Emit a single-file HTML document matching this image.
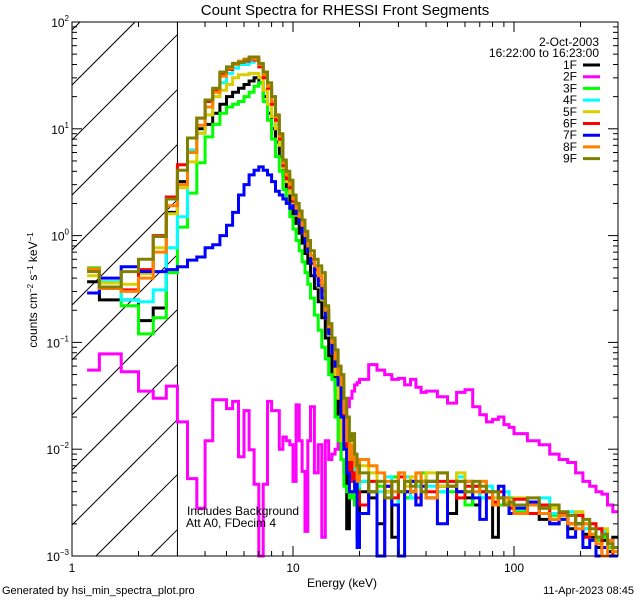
<!DOCTYPE html>
<html><head><meta charset="utf-8">
<style>
html,body{margin:0;padding:0;background:#fff;width:640px;height:600px;overflow:hidden;}
svg{display:block;font-family:"Liberation Sans",sans-serif;}
</style></head>
<body>
<svg id="chart" width="640" height="600" viewBox="0 0 640 600" xmlns="http://www.w3.org/2000/svg">
<rect x="0" y="0" width="640" height="600" fill="#fff"/>
<text x="345" y="15" font-size="15" text-anchor="middle">Count Spectra for RHESSI Front Segments</text>
<g id="hatch"></g>
<g id="series"></g>
<g id="axes"></g>
<text x="187" y="515" font-size="12">Includes Background</text>
<text x="186" y="527" font-size="12">Att A0, FDecim 4</text>
<text x="342" y="587" font-size="12" text-anchor="middle">Energy (keV)</text>
<text transform="translate(37,290) rotate(-90)" font-size="12" text-anchor="middle">counts cm<tspan baseline-shift="super" font-size="8">−2</tspan> s<tspan baseline-shift="super" font-size="8">−1</tspan> keV<tspan baseline-shift="super" font-size="8">−1</tspan></text>
<text x="2" y="594" font-size="11">Generated by hsi_min_spectra_plot.pro</text>
<text x="634" y="594" font-size="11" text-anchor="end">11-Apr-2023 08:45</text>
<g id="legend"></g>
</svg>
<script>
const edges=[1.17,1.33,1.67,2,2.33,2.67,3,3.33,3.67,4,4.33,4.67,5,5.33,5.67,6,6.33,6.67,7,7.33,7.67,8,8.33,8.67,9,9.33,9.67,10,10.33,10.67,11,11.33,11.67,12,12.5,13,13.5,14,14.5,15,15.5,16,16.5,17,17.5,18,18.5,19,19.5,20,22,24,26,28,30,32,34,36,38,40,45,50,55,60,65,70,75,80,85,90,95,100,115,130,145,160,175,190,205,220,235,250,265,280,295];
const seriesNames=["1F","2F","3F","4F","5F","6F","7F","8F","9F"];
const seriesColors=["#000000","#ff00ff","#00ff00","#00ffff","#d8d000","#ff0000","#0000ff","#ff8000","#808000"];
const s1F=[0.37,0.25,0.25,0.16,0.21,1.65,3.2,6.3,10,11,14,17,20,22,24,26,28,30,27,20,14,10,7.5,5.5,3.6,2.7,2.1,1.6,1.3,1.05,0.85,0.68,0.55,0.42,0.32,0.24,0.17,0.11,0.075,0.05,0.035,0.02,0.008,0.006,0.0018,0.004,0.0035,0.003,0.0015,
0.004,0.0035,0.002,0.004,0.0015,0.004,0.0035,0.004,0.003,0.005,0.0035,0.0045,0.0025,0.004,0.0035,0.003,0.004,0.0035,0.0015,0.003,0.0035,0.0025,0.0025,0.003,0.0022,0.002,0.0025,0.0018,0.002,0.0016,0.0015,0.0012,0.0014,0.0011,0.0015];
const s2F=[0.055,0.078,0.053,0.035,0.030,0.039,0.018,0.0053,0.0028,0.012,0.029,0.029,0.024,0.028,0.0085,0.023,0.0099,0.0047,0.0008,0.0047,0.028,0.023,0.023,0.01,0.013,0.012,0.011,0.005,0.026,0.012,0.0062,0.0017,0.012,0.025,0.006,0.011,0.0015,0.012,0.008,0.009,0.01,0.012,0.016,0.02,0.025,0.03,0.035,0.04,0.042,
0.045,0.062,0.055,0.05,0.045,0.046,0.04,0.045,0.038,0.034,0.035,0.031,0.027,0.034,0.036,0.025,0.021,0.018,0.019,0.02,0.017,0.016,0.014,0.012,0.011,0.009,0.008,0.0075,0.006,0.005,0.0045,0.004,0.0038,0.003,0.0026];
const s3F=[0.5,0.37,0.22,0.12,0.17,0.45,1.2,2.5,4.8,8.4,11,14,16,17,18,20,22,25,27,18,12,8,5.5,4,2.7,2.0,1.5,1.15,0.9,0.72,0.57,0.45,0.35,0.26,0.18,0.13,0.09,0.07,0.05,0.045,0.02,0.012,0.008,0.0045,0.004,0.0035,0.004,0.003,0.0035,
0.005,0.004,0.0045,0.004,0.0055,0.004,0.0035,0.005,0.0045,0.006,0.005,0.004,0.004,0.005,0.003,0.0045,0.004,0.0035,0.004,0.003,0.0035,0.0035,0.0026,0.003,0.0028,0.0024,0.0022,0.002,0.0024,0.0018,0.0016,0.0014,0.0015,0.0012,0.0011];
const s4F=[0.48,0.37,0.25,0.24,0.31,0.77,1.5,6.3,9.1,13.5,20,27,33,37,40,40,42,44,40,32,24,17,11,7.5,4.5,3.3,2.6,2.0,1.6,1.35,1.1,0.88,0.72,0.58,0.45,0.35,0.27,0.18,0.12,0.085,0.055,0.04,0.03,0.015,0.008,0.006,0.007,0.005,0.0045,
0.005,0.005,0.004,0.0055,0.003,0.004,0.0055,0.0035,0.0045,0.005,0.0045,0.004,0.005,0.0055,0.004,0.0045,0.0035,0.0045,0.004,0.0035,0.004,0.003,0.0028,0.003,0.0035,0.0025,0.0022,0.0026,0.002,0.0018,0.002,0.0015,0.0017,0.0014,0.0012];
const s5F=[0.42,0.36,0.35,0.44,0.77,1.6,2.8,4.9,9.1,13.5,20,23,26,30,32,32,33,33,30,23,17,13,10,7,4.3,3.2,2.5,1.95,1.55,1.3,1.05,0.85,0.7,0.56,0.44,0.33,0.25,0.17,0.12,0.08,0.05,0.03,0.012,0.018,0.008,0.01,0.006,0.006,0.005,
0.007,0.006,0.005,0.004,0.005,0.006,0.0045,0.0055,0.005,0.004,0.006,0.0045,0.005,0.006,0.004,0.0045,0.005,0.004,0.0035,0.0045,0.0032,0.003,0.0035,0.003,0.0025,0.0028,0.0024,0.002,0.0026,0.002,0.0016,0.0015,0.0018,0.0013,0.0012];
const s6F=[0.48,0.32,0.31,0.48,1.0,2.3,4.6,8.2,12.6,18,23,32,36,40,42,43,45,44,38,30,24,17,12,8,4.5,3.4,2.8,2.1,1.7,1.4,1.15,0.9,0.75,0.6,0.48,0.38,0.3,0.2,0.13,0.09,0.06,0.045,0.025,0.012,0.006,0.009,0.005,0.006,0.004,
0.003,0.005,0.0009,0.0045,0.0035,0.0055,0.004,0.005,0.0035,0.005,0.004,0.005,0.005,0.0035,0.0045,0.0045,0.004,0.0035,0.0032,0.004,0.003,0.0028,0.0034,0.0025,0.003,0.0022,0.0025,0.002,0.0024,0.0015,0.002,0.0018,0.0012,0.0014,0.001];
const s7F=[0.29,0.4,0.51,0.46,0.46,0.48,0.51,0.59,0.63,0.77,0.82,1.0,1.25,1.65,2.4,3.0,3.7,4.1,4.4,4.1,3.7,3.2,2.6,2.4,2.2,2.0,1.8,1.9,1.6,1.3,1.05,0.85,0.7,0.55,0.42,0.34,0.26,0.17,0.12,0.08,0.06,0.04,0.02,0.01,0.006,0.004,0.004,0.005,0.0012,
0.0025,0.004,0.0009,0.0045,0.003,0.0009,0.004,0.005,0.003,0.0045,0.005,0.002,0.0045,0.004,0.005,0.0035,0.0022,0.004,0.003,0.0045,0.003,0.0025,0.0028,0.0032,0.0025,0.002,0.0022,0.0015,0.002,0.0012,0.0014,0.001,0.0012,0.0009,0.001];
const s8F=[0.49,0.32,0.30,0.4,0.7,1.9,3.0,6.0,10.8,16,22,31,37,40,43,45,46,45,40,32,25,18,13,8.5,4.8,3.7,3.0,2.2,1.8,1.5,1.25,1.0,0.8,0.65,0.52,0.42,0.34,0.2,0.14,0.1,0.07,0.05,0.04,0.022,0.012,0.008,0.011,0.007,0.005,
0.008,0.007,0.006,0.005,0.004,0.006,0.005,0.004,0.006,0.005,0.0035,0.006,0.0045,0.005,0.005,0.004,0.005,0.004,0.003,0.0035,0.0035,0.003,0.0025,0.003,0.0025,0.0022,0.0024,0.002,0.0018,0.002,0.0016,0.0013,0.001,0.0014,0.0011];
const s9F=[0.46,0.33,0.46,0.6,0.98,2.2,4.1,8.2,12.6,18.6,24,34,38,41,42,44,47,47,41,34,27,20,13.5,9,5.1,4.0,3.3,2.4,2.0,1.7,1.4,1.1,0.9,0.72,0.6,0.52,0.45,0.22,0.15,0.11,0.085,0.06,0.05,0.03,0.02,0.012,0.014,0.009,0.007,
0.006,0.004,0.005,0.0035,0.005,0.004,0.005,0.0045,0.005,0.004,0.005,0.006,0.0045,0.005,0.004,0.005,0.0045,0.004,0.004,0.0035,0.003,0.0032,0.003,0.0035,0.0028,0.003,0.0026,0.0024,0.002,0.0022,0.0018,0.0015,0.0016,0.0013,0.0012];
const seriesData=[s1F,s2F,s3F,s4F,s5F,s6F,s7F,s8F,s9F];
const yTickExps=[2,1,0,-1,-2,-3];
const xTickLabels=["1","10","100"];

const X0=72,X1=618,Y0=22,Y1=556;
const XDEC=221, YDEC=(Y1-Y0)/5;
function xs(e){return X0+XDEC*Math.log10(e);}
function ys(v){v=Math.max(v,0.001);return Y0+(2-Math.log10(v))*YDEC;}
const NS="http://www.w3.org/2000/svg";
function mk(tag,attrs,parent){const el=document.createElementNS(NS,tag);for(const k in attrs)el.setAttribute(k,attrs[k]);parent.appendChild(el);return el;}

const hatch=document.getElementById('hatch');
const xh=xs(3);
for(let c=157-55*3;c<Y1+xh;c+=55){
  // line y = c - x, clipped to [X0,xh] x [Y0,Y1]
  let xa=Math.max(X0,c-Y1), xb=Math.min(xh,c-Y0);
  if(xb<=xa)continue;
  const ln=mk('line',{x1:xa,y1:c-xa,x2:xb,y2:c-xb,stroke:'#000','stroke-width':1},hatch);
  
  
}
const vl=mk('line',{x1:xh,y1:Y0,x2:xh,y2:Y1,stroke:'#000','stroke-width':1},hatch);



const sg=document.getElementById('series');
seriesData.forEach((vals,i)=>{
  let d='';
  for(let b=0;b<vals.length&&b<edges.length-1;b++){
    const xa=xs(edges[b]),xb=xs(edges[b+1]),y=ys(vals[b]);
    d+=(b===0?'M':'L')+xa.toFixed(1)+','+y.toFixed(1)+'L'+xb.toFixed(1)+','+y.toFixed(1);
  }
  const p=mk('path',{d:d,fill:'none',stroke:seriesColors[i],'stroke-width':3,'stroke-linejoin':'miter'},sg);
  
  
});

const ax=document.getElementById('axes');
const fr=mk('rect',{x:X0,y:Y0,width:X1-X0,height:Y1-Y0,fill:'none',stroke:'#000','stroke-width':1},ax);


for(let dec=0;dec<3;dec++){
  for(let m=1;m<10;m++){
    const e=Math.pow(10,dec)*m;const x=xs(e);
    if(x>X1)break;
    const L=m===1?10:5;
    const t1=mk('line',{x1:x,y1:Y1,x2:x,y2:Y1-L,stroke:'#000'},ax);
    
    
    const t2=mk('line',{x1:x,y1:Y0,x2:x,y2:Y0+L,stroke:'#000'},ax);
    
    
  }
}
xTickLabels.forEach((lab,i)=>{
  const t=mk('text',{x:xs(Math.pow(10,i)),y:572,'font-size':12,'text-anchor':'middle'},ax);
  t.textContent=lab;
  
  
});
for(let ex=-3;ex<2;ex++){
  for(let m=1;m<10;m++){
    const v=Math.pow(10,ex)*m;const y=ys(v);
    const L=m===1?10:5;
    const t1=mk('line',{x1:X0,y1:y,x2:X0+L,y2:y,stroke:'#000'},ax);
    
    
    const t2=mk('line',{x1:X1,y1:y,x2:X1-L,y2:y,stroke:'#000'},ax);
    
    
  }
}
yTickExps.forEach(ex=>{
  const y=ys(Math.pow(10,ex));
  const t=mk('text',{x:X0-3,y:y+5,'font-size':12,'text-anchor':'end'},ax);
  
  
  t.appendChild(document.createTextNode('10'));
  const sp=mk('tspan',{dy:-6,'font-size':8},t);
  sp.textContent=ex<0?'−'+(-ex):String(ex);
});

const lg=document.getElementById('legend');
const d1=mk('text',{x:599,y:46,'font-size':12,'text-anchor':'end'},lg);
d1.textContent='2-Oct-2003';


const d2=mk('text',{x:599,y:57,'font-size':12,'text-anchor':'end'},lg);
d2.textContent='16:22:00 to 16:23:00';


seriesNames.forEach((n,i)=>{
  const y=65+i*11.7;
  const t=mk('text',{x:577,y:y+4,'font-size':12,'text-anchor':'end'},lg);
  t.textContent=n;
  
  
  const l=mk('line',{x1:583,y1:y,x2:600,y2:y,stroke:seriesColors[i],'stroke-width':3},lg);
  
  
});
</script>
</body></html>
